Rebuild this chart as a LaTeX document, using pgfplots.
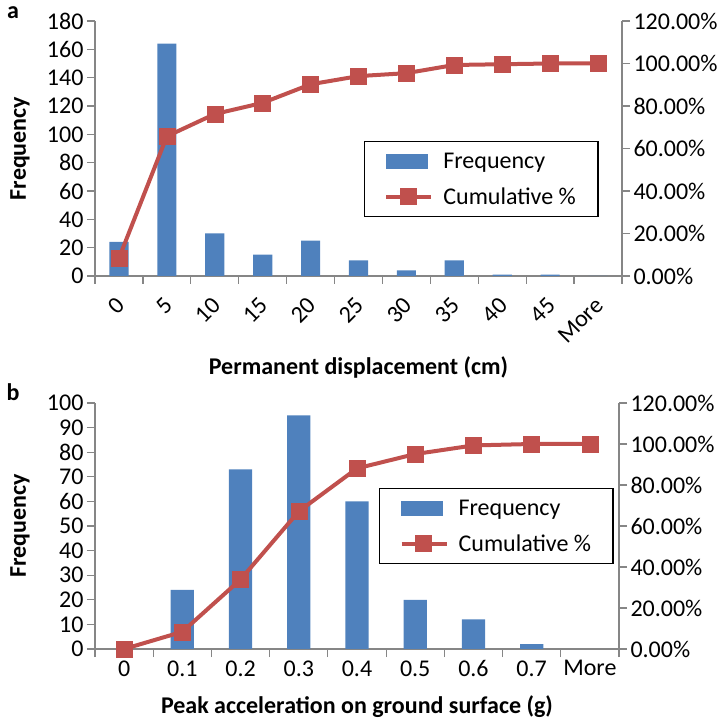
\documentclass[border=0pt]{standalone}
\usepackage{pgfplots}
\pgfplotsset{compat=1.18}
\usepackage{fontspec}
\setmainfont{Carlito}
\definecolor{barblue}{HTML}{4F81BD}
\definecolor{linered}{HTML}{C0504D}
\definecolor{axgray}{HTML}{868686}
\newcommand{\bigf}{\fontsize{24bp}{28bp}\selectfont}
\pgfplotsset{
  base/.style={
    scale only axis,
    /pgf/number format/assume math mode=true,
    tick label style={font=\bigf},
    label style={font=\bfseries\bigf},
    axis line style={axgray, line width=1.2bp, -},
    tick style={axgray, line width=1.2bp},
    tick align=outside,
    major tick length=8bp,
    minor tick length=8bp,
  },
  leftax/.style={
    base,
    axis x line*=bottom, axis y line*=left,
    major x tick style={draw=none},
    minor x tick style={axgray, line width=1.2bp},
    ylabel={Frequency},
    ylabel style={at={(axis description cs:0,0.5)}, anchor=center, yshift=75bp},
  },
  rightax/.style={
    base,
    axis y line*=right, axis x line=none,
    ymin=0, ymax=120,
    ytick={0,20,...,120},
    yticklabels={0.00\%,20.00\%,40.00\%,60.00\%,80.00\%,100.00\%,120.00\%},
    legend cell align=left,
  },
  legbox/.style={legend style={at={#1}, anchor=north west, draw=black, line width=1.3bp,
    font=\bigf, inner xsep=20bp, inner ysep=9bp, row sep=14bp,
    /tikz/every odd column/.append style={column sep=8bp}}},
  cumline/.style={linered, line width=4bp, mark=square*, mark size=8bp,
    mark options={fill=linered, draw=linered, line width=0.5bp}},
  barleg/.style={legend image code/.code={\fill[barblue] (0bp,-7bp) rectangle (41bp,7bp);}},
  lineleg/.style={legend image code/.code={\draw[mark repeat=2,mark phase=2,##1] plot coordinates {(0bp,0bp) (22bp,0bp) (45bp,0bp)};}},
}
\begin{document}
\begin{tikzpicture}
\useasboundingbox (0,0) rectangle (723bp,721bp);
% ---------- panel a ----------
\begin{axis}[leftax, at={(95bp,445bp)}, anchor=south west, width=527bp, height=255bp,
  xmin=-0.5, xmax=10.5, ymin=0, ymax=180,
  ytick={0,20,...,180},
  xtick={0,...,10},
  xticklabels={0,5,10,15,20,25,30,35,40,45,More},
  minor xtick={-0.5,0.5,...,10.5},
  xticklabel style={xshift=4bp, yshift=-15bp, rotate=45, anchor=east},
  xlabel={Permanent displacement (cm)},
  xlabel style={at={(axis description cs:0.5,0)}, anchor=center, yshift=-91bp},
]
\addplot[ybar, bar width=0.4, fill=barblue, draw=none] coordinates {
(0,24) (1,164) (2,30) (3,15) (4,25) (5,11) (6,4) (7,11) (8,1) (9,1) (10,0)};
\end{axis}
\begin{axis}[rightax, at={(95bp,445bp)}, anchor=south west, width=527bp, height=255bp,
  xmin=-0.5, xmax=10.5,
  legbox={(0.510,0.529)},
]
\addlegendimage{barleg}
\addlegendentry{Frequency}
\addplot[cumline, lineleg] coordinates {
(0,8.39) (1,65.73) (2,76.22) (3,81.47) (4,90.21) (5,94.06) (6,95.45) (7,99.30) (8,99.65) (9,100) (10,100)};
\addlegendentry{Cumulative \%}
\end{axis}
% ---------- panel b ----------
\begin{axis}[leftax, at={(95bp,72bp)}, anchor=south west, width=524bp, height=246bp,
  xmin=-0.5, xmax=8.5, ymin=0, ymax=100,
  ytick={0,10,...,100},
  xtick={0,...,8},
  xticklabels={0,0.1,0.2,0.3,0.4,0.5,0.6,0.7,More},
  minor xtick={-0.5,0.5,...,8.5},
  xlabel={Peak acceleration on ground surface (g)},
  xlabel style={at={(axis description cs:0.5,0)}, anchor=center, yshift=-58bp},
]
\addplot[ybar, bar width=0.4, fill=barblue, draw=none] coordinates {
(0,0) (1,24) (2,73) (3,95) (4,60) (5,20) (6,12) (7,2) (8,0)};
\end{axis}
\begin{axis}[rightax, at={(95bp,72bp)}, anchor=south west, width=524bp, height=246bp,
  xmin=-0.5, xmax=8.5,
  legbox={(0.542,0.654)},
]
\addlegendimage{barleg}
\addlegendentry{Frequency}
\addplot[cumline, lineleg] coordinates {
(0,0) (1,8.39) (2,33.92) (3,67.13) (4,88.11) (5,95.10) (6,99.30) (7,100) (8,100)};
\addlegendentry{Cumulative \%}
\end{axis}
\node[font=\bfseries\bigf] at (13bp,708bp) {a};
\node[font=\bfseries\bigf] at (13bp,329bp) {b};
\end{tikzpicture}
\end{document}
